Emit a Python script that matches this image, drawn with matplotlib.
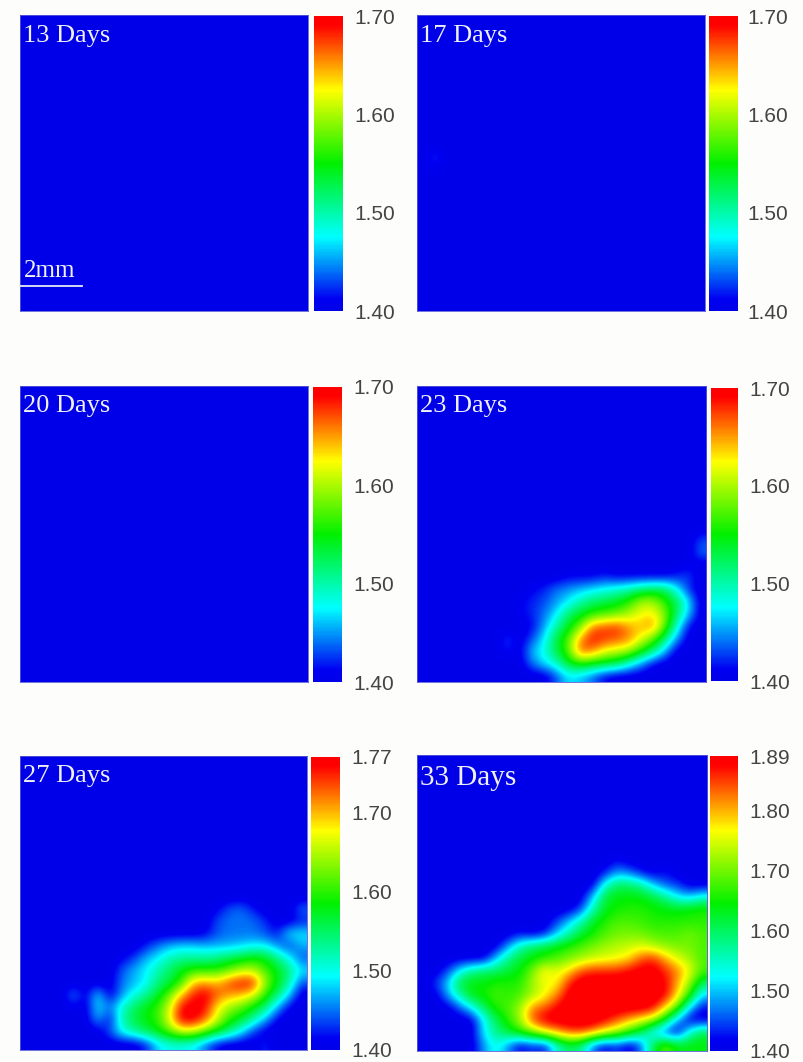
import numpy as np
import matplotlib
matplotlib.use('Agg')
import matplotlib.pyplot as plt
from matplotlib.colors import LinearSegmentedColormap

W, H = 804, 1062

DAYS = ['13 Days', '17 Days', '20 Days', '23 Days', '27 Days', '33 Days']
N = 24  # grid cells per side, rows listed below are the bottom ones, everything above is 40

# values are hundredths, 40 = 1.40
ROWS_13 = []
ROWS_17 = [
    [40, 43, 40] + [40] * 21,
    [40, 41, 40] + [40] * 21,
]
ROWS_17_START = 11  # row index of the faint spot
ROWS_20 = []
ROWS_23 = [
    [40, 40, 40, 40, 40, 40, 40, 40, 40, 40, 40, 40, 40, 40, 40, 40, 40, 40, 40, 40, 40, 40, 40, 43],
    [40, 40, 40, 40, 40, 40, 40, 40, 40, 40, 40, 40, 40, 40, 40, 40, 40, 40, 40, 40, 40, 40, 40, 44],
    [40, 40, 40, 40, 40, 40, 40, 40, 40, 40, 40, 40, 40, 40, 40, 40, 40, 40, 40, 40, 40, 40, 41, 40],
    [40, 40, 40, 40, 40, 40, 40, 40, 40, 40, 40, 40, 41, 41, 41, 42, 41, 41, 41, 41, 41, 42, 43, 40],
    [40, 40, 40, 40, 40, 40, 40, 40, 40, 41, 42, 44, 45, 46, 47, 48, 49, 50, 52, 53, 53, 48, 42, 40],
    [40, 40, 40, 40, 40, 40, 40, 40, 41, 42, 43, 45, 47, 50, 52, 53, 54, 56, 60, 60, 56, 53, 47, 40],
    [40, 40, 40, 40, 40, 40, 40, 40, 41, 42, 44, 47, 52, 54, 56, 57, 58, 60, 62, 63, 59, 52, 46, 40],
    [40, 40, 40, 40, 40, 40, 40, 40, 40, 41, 45, 50, 54, 58, 66, 67, 68, 65, 64, 66, 58, 49, 41, 40],
    [40, 40, 40, 40, 40, 40, 40, 43, 40, 43, 47, 53, 57, 65, 69, 68, 67, 66, 62, 58, 52, 45, 40, 40],
    [40, 40, 40, 40, 40, 40, 40, 42, 40, 46, 48, 53, 57, 67, 66, 62, 61, 60, 56, 52, 46, 40, 40, 40],
    [40, 40, 40, 40, 40, 40, 40, 40, 40, 44, 47, 49, 54, 56, 55, 54, 53, 49, 45, 41, 40, 40, 40, 40],
    [40, 40, 40, 40, 40, 40, 40, 40, 40, 40, 40, 43, 47, 46, 44, 41, 40, 40, 40, 40, 40, 40, 40, 40],
]
ROWS_27 = [
    [40, 40, 40, 40, 40, 40, 40, 40, 40, 40, 40, 40, 40, 40, 40, 40, 41, 44, 45, 42, 40, 40, 40, 45],
    [40, 40, 40, 40, 40, 40, 40, 40, 40, 40, 40, 40, 40, 40, 40, 40, 44, 45, 45, 45, 43, 40, 40, 42],
    [40, 40, 40, 40, 40, 40, 40, 40, 40, 40, 40, 40, 40, 40, 40, 41, 44, 45, 45, 45, 44, 42, 49, 49],
    [40, 40, 40, 40, 40, 40, 40, 40, 40, 40, 42, 45, 47, 48, 48, 47, 47, 47, 48, 49, 49, 46, 43, 47],
    [40, 40, 40, 40, 40, 40, 40, 40, 41, 43, 47, 49, 52, 53, 53, 53, 54, 56, 57, 59, 58, 54, 50, 44],
    [40, 40, 40, 40, 40, 40, 40, 40, 44, 47, 49, 52, 55, 58, 60, 60, 60, 62, 65, 65, 61, 58, 54, 49],
    [40, 40, 40, 40, 40, 40, 40, 40, 45, 47, 49, 54, 56, 60, 70, 71, 70, 74, 76, 76, 64, 58, 53, 44],
    [40, 40, 40, 40, 46, 40, 49, 40, 46, 50, 53, 57, 62, 70, 75, 77, 73, 71, 70, 67, 60, 55, 48, 40],
    [40, 40, 40, 40, 41, 40, 49, 45, 51, 55, 58, 60, 66, 76, 77, 76, 68, 64, 62, 58, 55, 47, 41, 40],
    [40, 40, 40, 40, 40, 40, 47, 41, 52, 56, 58, 60, 67, 77, 77, 73, 66, 60, 57, 53, 47, 41, 40, 40],
    [40, 40, 40, 40, 40, 40, 40, 44, 50, 53, 56, 58, 62, 66, 66, 62, 58, 54, 49, 43, 40, 40, 40, 40],
    [40, 40, 40, 40, 40, 40, 40, 40, 40, 40, 42, 48, 50, 50, 49, 45, 41, 40, 40, 40, 43, 40, 40, 40],
]
ROWS_33 = [
    [40, 40, 40, 40, 40, 40, 40, 40, 40, 40, 40, 40, 40, 40, 40, 40, 42, 40, 40, 40, 40, 40, 40, 40],
    [40, 40, 40, 40, 40, 40, 40, 40, 40, 40, 40, 40, 40, 40, 40, 42, 48, 46, 42, 40, 43, 40, 40, 40],
    [40, 40, 40, 40, 40, 40, 40, 40, 40, 40, 40, 40, 40, 40, 40, 54, 60, 60, 57, 50, 45, 44, 40, 40],
    [40, 40, 40, 40, 40, 40, 40, 40, 40, 40, 40, 40, 40, 40, 50, 62, 64, 64, 64, 62, 58, 52, 50, 54],
    [40, 40, 40, 40, 40, 40, 40, 40, 40, 40, 40, 40, 40, 44, 56, 63, 65, 66, 66, 65, 64, 64, 65, 66],
    [40, 40, 40, 40, 40, 40, 40, 40, 40, 40, 40, 44, 50, 56, 63, 66, 68, 68, 67, 66, 66, 66, 66, 66],
    [40, 40, 40, 40, 40, 40, 40, 40, 42, 40, 42, 50, 56, 62, 65, 68, 70, 70, 70, 68, 68, 68, 70, 68],
    [40, 40, 40, 40, 40, 40, 40, 48, 56, 60, 62, 64, 66, 68, 70, 72, 73, 74, 75, 73, 71, 70, 70, 68],
    [40, 40, 40, 40, 40, 40, 50, 58, 62, 64, 66, 68, 70, 72, 74, 75, 76, 78, 84, 86, 80, 75, 72, 68],
    [40, 40, 44, 52, 58, 60, 60, 62, 64, 70, 78, 75, 78, 84, 86, 86, 86, 88, 89, 89, 86, 82, 76, 68],
    [40, 44, 50, 62, 64, 64, 66, 66, 66, 72, 76, 76, 86, 90, 90, 90, 90, 90, 90, 90, 88, 80, 72, 60],
    [40, 40, 48, 56, 64, 65, 68, 66, 68, 72, 76, 82, 89, 90, 90, 90, 90, 90, 90, 90, 88, 78, 66, 50],
    [40, 40, 40, 45, 52, 60, 66, 68, 72, 82, 84, 88, 90, 90, 90, 90, 90, 90, 90, 88, 78, 68, 50, 42],
    [40, 40, 40, 40, 40, 52, 60, 66, 72, 84, 89, 90, 90, 90, 90, 88, 84, 80, 76, 72, 62, 48, 40, 40],
    [40, 40, 40, 40, 40, 52, 58, 62, 66, 70, 76, 80, 84, 85, 82, 76, 72, 66, 60, 50, 44, 40, 55, 62],
    [40, 40, 40, 40, 40, 48, 54, 48, 41, 44, 42, 54, 60, 58, 46, 41, 44, 40, 46, 62, 70, 64, 64, 64],
]
PANEL_ROWS = [ROWS_13, ROWS_17, ROWS_20, ROWS_23, ROWS_27, ROWS_33]

VMAX = [1.70, 1.70, 1.70, 1.70, 1.77, 1.89]
TICKS = [
    [1.40, 1.50, 1.60, 1.70],
    [1.40, 1.50, 1.60, 1.70],
    [1.40, 1.50, 1.60, 1.70],
    [1.40, 1.50, 1.60, 1.70],
    [1.40, 1.50, 1.60, 1.70, 1.77],
    [1.40, 1.50, 1.60, 1.70, 1.80, 1.89],
]

# pixel boxes: left, top, right, bottom
IMG_BOX = [(20, 15, 308, 311), (417, 15, 705, 311), (20, 386, 308, 682),
           (417, 386, 706, 682), (20, 756, 307, 1050), (417, 755, 707, 1051)]
BAR_BOX = [(314, 16, 343, 311), (709, 16, 738, 311), (313, 387, 342, 682),
           (711, 388, 738, 681), (311, 757, 340, 1050), (710, 756, 738, 1051)]
LABEL_SIZE = [19, 19, 19, 19, 19, 21]
LABEL_Y = [36, 36, 406, 406, 776, 778]
TICK_PAD = [8, 7, 8, 8, 8, 8]

CMAP = LinearSegmentedColormap.from_list('rainbow_bar', [
    (0.0, '#0000e8'), (0.04, '#0000f2'), (0.25, '#00ffff'), (0.5, '#00f000'),
    (0.75, '#ffff00'), (0.97, '#ff0000'), (1.0, '#ff0000')])


def add_box(fig, box):
    left, top, right, bottom = box
    return fig.add_axes([left / W, 1 - bottom / H, (right - left) / W, (bottom - top) / H])


def build_grid(idx):
    grid = np.full((N, N), 40.0)
    rows = PANEL_ROWS[idx]
    if rows:
        start = ROWS_17_START if rows is ROWS_17 else N - len(rows)
        grid[start:start + len(rows)] = rows
    return 1 + grid / 100


fig = plt.figure(figsize=(W / 100, H / 100), dpi=100, facecolor='#fdfdfb')

for i in range(6):
    ax = add_box(fig, IMG_BOX[i])
    im = ax.imshow(build_grid(i), cmap=CMAP, vmin=1.40, vmax=VMAX[i], aspect='auto',
                   interpolation='bicubic')
    ax.set_xticks([])
    ax.set_yticks([])
    for spine in ax.spines.values():
        spine.set_color('#5a5ad8')
        spine.set_linewidth(0.6)

    fig.text((IMG_BOX[i][0] + 3) / W, 1 - LABEL_Y[i] / H, DAYS[i], color='#f0f0f4',
             family='Liberation Serif', fontsize=LABEL_SIZE[i], va='center')

    cax = add_box(fig, BAR_BOX[i])
    cb = fig.colorbar(im, cax=cax)
    cb.outline.set_visible(False)
    cb.set_ticks(TICKS[i])
    cb.ax.set_yticklabels(['%.2f' % t for t in TICKS[i]], family='Liberation Sans',
                          fontsize=15, color='#444444')
    cb.ax.tick_params(length=0, pad=TICK_PAD[i])

# scale bar on the first panel
fig.text(24 / W, 1 - 271 / H, '2mm', color='#f0f0f4', family='Liberation Serif',
         fontsize=18, va='center')
fig.add_artist(plt.Line2D([20 / W, 82 / W], [1 - 286 / H, 1 - 286 / H], color='#e8e8f4', lw=1.3))

fig.savefig('out.png', dpi=100, facecolor=fig.get_facecolor())
